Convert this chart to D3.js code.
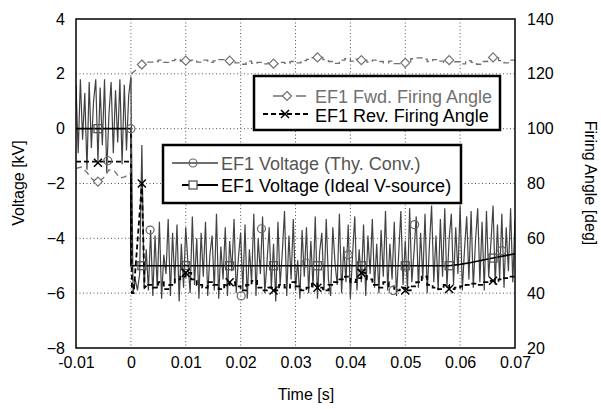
<!DOCTYPE html>
<html><head><meta charset="utf-8">
<script src="https://cdn.jsdelivr.net/npm/d3@7"></script>
<style>
body{margin:0;background:#fff}
svg{display:block}
text{font-family:"Liberation Sans",Arial,sans-serif}
</style></head>
<body><svg id="c" width="601" height="409"></svg>
<script>
// ---------- data ----------
const xTicks = [-0.01, 0, 0.01, 0.02, 0.03, 0.04, 0.05, 0.06, 0.07];
const xTickLabels = ["-0.01", "0", "0.01", "0.02", "0.03", "0.04", "0.05", "0.06", "0.07"];
const yTicks = [-8, -6, -4, -2, 0, 2, 4];
const y2Ticks = [20, 40, 60, 80, 100, 120, 140];

// EF1 Voltage (Thy. Conv.) [kV], sampled every 0.4 ms from t = -0.01 s
const voltStart = -0.01, voltStep = 0.0004;
const voltValues = [
  1.6, -0.9, 1.8, -0.4, 1.3, -1.5, 1.7, -0.7, 1.0, 1.8,
  -1.2, 1.5, -0.6, 1.8, -1.6, 0.5, 1.7, -0.9, 1.4, -0.5,
  1.8, -1.3, 1.6, -0.8, 1.2,
  1.9,
  -6.0, -5.5, -5.9, -5.3, -0.6, -5.8, -4.4, -5.9, -3.7, -6.1,
  -3.9, -5.8, -3.4, -6.2, -4.6, -5.3, -3.3, -6.1, -3.8, -5.6,
  -3.5, -6.3, -4.2, -5.8, -3.6, -4.9, -6.0, -3.2, -5.7, -4.0,
  -6.2, -3.8, -5.4, -3.4, -6.1, -4.6, -3.9, -5.9, -3.1, -6.2,
  -4.3, -5.5, -3.6, -6.1, -4.1, -5.2, -3.3, -6.0, -4.7, -3.8,
  -5.9, -3.5, -6.2, -4.4, -5.6, -3.1, -6.1, -4.0, -5.3, -3.2,
  -6.0, -4.9, -3.6, -5.8, -4.2, -6.3, -3.4, -5.7, -4.5, -3.0,
  -6.1, -3.9, -5.5, -3.3, -5.9, -4.8, -6.2, -3.7, -5.4, -3.6,
  -6.0, -4.1, -5.8, -3.2, -6.2, -4.5, -3.8, -5.9, -3.3, -5.5,
  -6.1, -3.6, -4.9, -5.7, -3.1, -6.0, -4.3, -5.6, -3.5, -6.2,
  -4.6, -3.2, -5.9, -4.4, -5.6, -3.5, -6.1, -3.9, -5.3, -3.3,
  -5.8, -4.2, -6.0, -3.7, -5.4, -3.0, -5.9, -4.2, -5.5, -3.4,
  -6.1, -4.6, -3.0, -5.7, -4.1, -5.9, -2.9, -5.6, -4.5, -3.2,
  -5.8, -3.8, -5.5, -3.1, -6.0, -4.3, -2.8, -5.6, -3.9, -5.9,
  -3.3, -5.4, -2.9, -5.8, -4.0, -3.1, -5.7, -3.6, -5.3, -2.8,
  -5.9, -4.4, -3.2, -5.5, -3.0, -5.8, -4.1, -2.9, -5.6, -3.4,
  -5.9, -3.0, -5.4, -4.2, -2.8, -5.7, -3.5, -5.5, -3.1, -5.8,
  -3.6, -5.2, -2.9, -5.6, -3.3
];
const voltMarkT = [-0.0042, 0, 0.0035, 0.0201, 0.0238, 0.0319, 0.0396, 0.0478, 0.0517, 0.0676];
const voltMarkV = [-1.17, 0, -3.7, -6.1, -3.65, -4.9, -4.6, -5.9, -3.5, -4.45];

// EF1 Voltage (Ideal V-source) [kV]
const idealT = [-0.01, 0, 0, 0.058, 0.06, 0.062, 0.064, 0.066, 0.068, 0.07];
const idealV = [0, 0, -5, -5, -4.95, -4.88, -4.8, -4.72, -4.64, -4.56];
const idealMarkT = [-0.006, 0.002, 0.010, 0.018, 0.026, 0.034, 0.042, 0.050, 0.058, 0.066];
const idealMarkV = [0, -5, -5, -5, -5, -5, -5, -5, -5, -4.72];

// EF1 Fwd. Firing Angle [deg]
const fwdHeadT = [-0.01, -0.009, -0.008, -0.007, -0.006, -0.005, -0.004, -0.003, -0.002, -0.001, 0, 0.0001, 0.001, 0.002, 0.003];
const fwdHeadV = [85.5, 86, 84, 81.5, 80.7, 82, 85, 84.5, 82, 82.5, 84, 120, 121.5, 123.4, 124.3];
const fwdTailStart = 0.004, fwdTailStep = 0.001;
const fwdTailV = [
  124.5, 125, 124.2, 124.8, 125.3, 124.6, 124.8,
  125, 124.3, 125, 124.2, 124.7, 125.2, 124.5, 124.8, 124, 123.5,
  124.6, 123.8, 124.2, 123.6, 124, 123.7, 124.2, 123.8, 124.5, 124,
  124.8, 125.3, 125.8, 126, 125.2, 124.5, 123.8, 125, 125.5, 124.6,
  125.4, 125, 124.3, 125, 124.5, 124, 124.6, 123.7, 124.3, 124,
  125.5, 125.8, 125.4, 124.5, 125.2, 124.6, 124.2, 125, 124.4, 123.6,
  124.8, 124.2, 123.5, 124.5, 125.2, 126, 124.8, 124, 125, 124.3
];
const fwdMarkT = [-0.006, 0.002, 0.010, 0.018, 0.026, 0.034, 0.042, 0.050, 0.058, 0.066];
const fwdMarkV = [80.7, 123.4, 124.8, 124.8, 123.7, 126, 125, 124, 125, 126];

// EF1 Rev. Firing Angle [deg]
const revHeadT = [-0.01, 0, 0.0002, 0.0005, 0.002, 0.0025, 0.003];
const revHeadV = [88, 88, 40, 40, 80, 42, 43];
const revTailStart = 0.004, revTailStep = 0.001;
const revTailV = [
  42, 44, 41.5, 43, 45, 46, 47.4,
  45, 43, 42, 44, 43, 41.5, 43, 44, 42.5, 41,
  43, 44.5, 42, 41, 42, 41, 43, 42, 44, 42.5,
  41, 42, 43.5, 42, 41, 43, 44, 45, 46, 44,
  45.5, 47.4, 45, 43, 42, 44, 42.5, 41, 42, 41,
  42.5, 44, 46, 43, 42, 41.5, 43, 41.5, 42, 42.5,
  43, 43.5, 43, 44, 44.5, 44.5, 45, 45.5, 46, 46
];
const revMarkT = [-0.006, 0.002, 0.010, 0.018, 0.026, 0.034, 0.042, 0.050, 0.058, 0.066];
const revMarkV = [87.6, 80, 47.4, 44, 41, 42, 47.4, 41, 41.5, 44.5];

const legendAngle = ["EF1 Fwd. Firing Angle", "EF1 Rev. Firing Angle"];
const legendVolt = ["EF1 Voltage (Thy. Conv.)", "EF1 Voltage (Ideal V-source)"];

// ---------- chart ----------
const L = 76, R = 515, T = 19, B = 348;
const svg = d3.select("#c");
const x = d3.scaleLinear().domain([-0.01, 0.07]).range([L, R]);
const y = d3.scaleLinear().domain([-8, 4]).range([B, T]);
const y2 = d3.scaleLinear().domain([20, 140]).range([B, T]);

const GRAY_V = "#424242", GRAY_F = "#707070";

svg.append("defs").append("clipPath").attr("id", "clip")
  .append("rect").attr("x", L).attr("y", T).attr("width", R - L).attr("height", B - T);

// grid
const grid = svg.append("g").attr("stroke", "#555").attr("stroke-width", 1).attr("stroke-dasharray", "1,2.5");
grid.selectAll("line.v").data(xTicks.slice(1, -1)).join("line")
  .attr("x1", d => x(d)).attr("x2", d => x(d)).attr("y1", T).attr("y2", B);
grid.selectAll("line.h").data(yTicks.slice(1, -1)).join("line")
  .attr("x1", L).attr("x2", R).attr("y1", d => y(d)).attr("y2", d => y(d));

const plot = svg.append("g").attr("clip-path", "url(#clip)");

// voltage (thy conv)
const voltData = voltValues.map((v, i) => [voltStart + i * voltStep, v]);
plot.append("path").datum(voltData)
  .attr("fill", "none").attr("stroke", GRAY_V).attr("stroke-width", 1.2)
  .attr("d", d3.line().x(d => x(d[0])).y(d => y(d[1])));

// ideal
const idealData = idealT.map((t, i) => [t, idealV[i]]);
plot.append("path").datum(idealData)
  .attr("fill", "none").attr("stroke", "#000").attr("stroke-width", 1.6)
  .attr("d", d3.line().x(d => x(d[0])).y(d => y(d[1])));

// rev
const revHead = revHeadT.map((t, i) => [t, revHeadV[i]]);
const revTail = [[revHeadT[revHeadT.length - 1], revHeadV[revHeadV.length - 1]]]
  .concat(revTailV.map((v, i) => [revTailStart + i * revTailStep, v]));
const lineA = d3.line().x(d => x(d[0])).y(d => y2(d[1]));
const lineAStep = d3.line().x(d => x(d[0])).y(d => y2(d[1])).curve(d3.curveStepAfter);
plot.append("path").datum(revHead)
  .attr("fill", "none").attr("stroke", "#000").attr("stroke-width", 1.8).attr("stroke-dasharray", "5,3")
  .attr("d", lineA);
plot.append("path").datum(revTail)
  .attr("fill", "none").attr("stroke", "#000").attr("stroke-width", 1.8).attr("stroke-dasharray", "5,3")
  .attr("d", lineAStep);

// fwd
const fwdHead = fwdHeadT.map((t, i) => [t, fwdHeadV[i]]);
const fwdTail = [[fwdHeadT[fwdHeadT.length - 1], fwdHeadV[fwdHeadV.length - 1]]]
  .concat(fwdTailV.map((v, i) => [fwdTailStart + i * fwdTailStep, v]));
plot.append("path").datum(fwdHead)
  .attr("fill", "none").attr("stroke", GRAY_F).attr("stroke-width", 1.3).attr("stroke-dasharray", "6,4")
  .attr("d", d3.line().x(d => x(d[0])).y(d => y2(d[1])));
plot.append("path").datum(fwdTail)
  .attr("fill", "none").attr("stroke", GRAY_F).attr("stroke-width", 1.3).attr("stroke-dasharray", "6,4")
  .attr("d", lineAStep);

// markers
function circleMark(g, cx, cy, col) {
  g.append("circle").attr("cx", cx).attr("cy", cy).attr("r", 4)
    .attr("fill", "none").attr("stroke", col).attr("stroke-width", 1.2);
}
function squareMark(g, cx, cy, col) {
  g.append("rect").attr("x", cx - 4).attr("y", cy - 4).attr("width", 8).attr("height", 8)
    .attr("fill", "none").attr("stroke", col).attr("stroke-width", 1.3);
}
function diamondMark(g, cx, cy, col) {
  g.append("path").attr("d", `M${cx},${cy - 4.5}L${cx + 4.5},${cy}L${cx},${cy + 4.5}L${cx - 4.5},${cy}Z`)
    .attr("fill", "#fff").attr("stroke", col).attr("stroke-width", 1.2);
}
function xMark(g, cx, cy, col) {
  g.append("path").attr("d", `M${cx - 4},${cy - 4}L${cx + 4},${cy + 4}M${cx - 4},${cy + 4}L${cx + 4},${cy - 4}`)
    .attr("stroke", col).attr("stroke-width", 1.5);
}
const mk = svg.append("g").attr("clip-path", "url(#clip)");
voltMarkT.forEach((t, i) => circleMark(mk, x(t), y(voltMarkV[i]), "#666"));
idealMarkT.forEach((t, i) => squareMark(mk, x(t), y(idealMarkV[i]), "#555"));
fwdMarkT.forEach((t, i) => diamondMark(mk, x(t), y2(fwdMarkV[i]), GRAY_F));
revMarkT.forEach((t, i) => xMark(mk, x(t), y2(revMarkV[i]), "#000"));

// frame
svg.append("rect").attr("x", L).attr("y", T).attr("width", R - L).attr("height", B - T)
  .attr("fill", "none").attr("stroke", "#000").attr("stroke-width", 1.5);

// axes
const fs = "16px";
const axB = svg.append("g").attr("transform", `translate(0,${B})`)
  .call(d3.axisBottom(x).tickValues(xTicks).tickFormat((d, i) => xTickLabels[i]).tickSize(0).tickPadding(8.6));
const axL = svg.append("g").attr("transform", `translate(${L},0)`)
  .call(d3.axisLeft(y).tickValues(yTicks).tickFormat(d3.format("d")).tickSize(0).tickPadding(11));
const axR = svg.append("g").attr("transform", `translate(${R},0)`)
  .call(d3.axisRight(y2).tickValues(y2Ticks).tickFormat(d3.format("d")).tickSize(0).tickPadding(12));
[axB, axL, axR].forEach(a => {
  a.select(".domain").remove();
  a.selectAll("text").attr("font-size", fs).attr("fill", "#000")
    .attr("font-family", '"Liberation Sans",Arial,sans-serif');
});

// axis titles
svg.append("text").attr("x", 306).attr("y", 400).attr("text-anchor", "middle")
  .attr("font-size", fs).text("Time [s]");
svg.append("text").attr("transform", `translate(24,183) rotate(-90)`).attr("text-anchor", "middle")
  .attr("font-size", fs).text("Voltage [kV]");
svg.append("text").attr("transform", `translate(585,183) rotate(90)`).attr("text-anchor", "middle")
  .attr("font-size", fs).text("Firing Angle [deg]");

// legend 1 (firing angles)
const lg1 = svg.append("g");
lg1.append("rect").attr("x", 254).attr("y", 76).attr("width", 246).attr("height", 54)
  .attr("fill", "#fff").attr("stroke", "#000").attr("stroke-width", 2.5);
lg1.append("line").attr("x1", 273).attr("x2", 308).attr("y1", 96).attr("y2", 96)
  .attr("stroke", GRAY_F).attr("stroke-width", 1.4).attr("stroke-dasharray", "10,13");
diamondMark(lg1, 287, 96, GRAY_F);
lg1.append("line").attr("x1", 263).attr("x2", 310).attr("y1", 114).attr("y2", 114)
  .attr("stroke", "#000").attr("stroke-width", 1.8).attr("stroke-dasharray", "5,3");
xMark(lg1, 285, 114, "#000");
lg1.append("text").attr("x", 315).attr("y", 103).attr("font-size", "18px").attr("fill", "#707070").text(legendAngle[0]);
lg1.append("text").attr("x", 315).attr("y", 121.5).attr("font-size", "18px").attr("fill", "#000").text(legendAngle[1]);

// legend 2 (voltages)
const lg2 = svg.append("g");
lg2.append("rect").attr("x", 163).attr("y", 145).attr("width", 298).attr("height", 58)
  .attr("fill", "#fff").attr("stroke", "#000").attr("stroke-width", 2.5);
lg2.append("line").attr("x1", 172).attr("x2", 218).attr("y1", 163).attr("y2", 163)
  .attr("stroke", GRAY_V).attr("stroke-width", 1.6);
circleMark(lg2, 193, 163, "#666");
lg2.append("line").attr("x1", 182).attr("x2", 218).attr("y1", 185).attr("y2", 185)
  .attr("stroke", "#000").attr("stroke-width", 1.8);
lg2.append("rect").attr("x", 189).attr("y", 181).attr("width", 8).attr("height", 8)
  .attr("fill", "#fff").attr("stroke", "#555").attr("stroke-width", 1.3);
lg2.append("text").attr("x", 221).attr("y", 170).attr("font-size", "18px").attr("fill", "#555").text(legendVolt[0]);
lg2.append("text").attr("x", 221).attr("y", 191.5).attr("font-size", "18px").attr("fill", "#000").text(legendVolt[1]);
</script>
</body></html>
